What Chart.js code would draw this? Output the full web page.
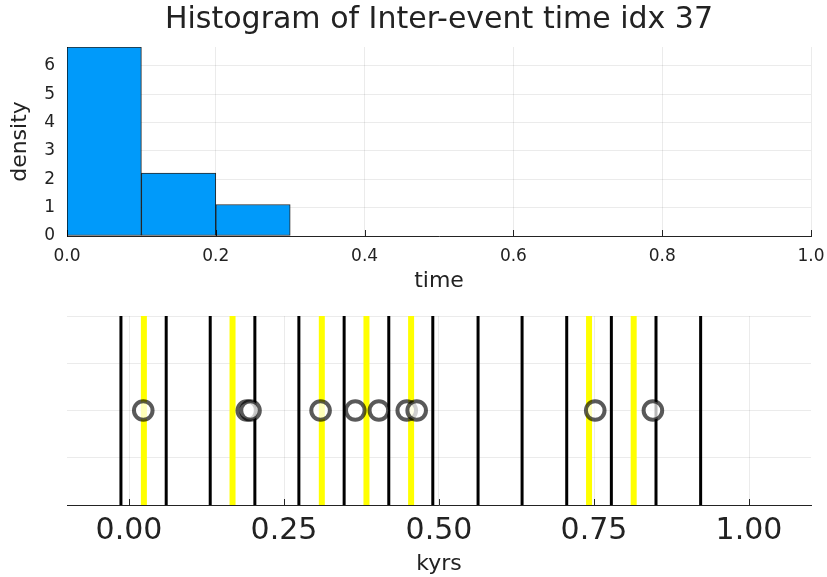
<!DOCTYPE html>
<html>
<head>
<meta charset="utf-8">
<script src="https://cdn.jsdelivr.net/npm/chart.js@4/dist/chart.umd.min.js"></script>
<style>
  html, body { margin: 0; padding: 0; background: #fff; }
  #wrap { position: relative; width: 827px; height: 577px; overflow: hidden; }
  #c1 { position: absolute; left: 0; top: 0; }
  #c2 { position: absolute; left: 0; top: 300px; }
</style>
</head>
<body>
<div id="wrap">
  <canvas id="c1" width="827" height="300"></canvas>
  <canvas id="c2" width="827" height="277"></canvas>
</div>
<script>
// ---- data ----
const titleText = 'Histogram of Inter-event time idx 37';
const binEdges = [0.0, 0.1, 0.2, 0.3];
const densities = [6.667, 2.222, 1.111];
const histXTicks = [0.0, 0.2, 0.4, 0.6, 0.8, 1.0];
const histYTicks = [0, 1, 2, 3, 4, 5, 6];

const blackLines = [-0.013, 0.060, 0.131, 0.203, 0.274, 0.347, 0.419, 0.490, 0.563, 0.634, 0.706, 0.778, 0.850, 0.922];
const yellowLines = [0.024, 0.167, 0.311, 0.383, 0.455, 0.742, 0.814];
const eventTimes = [0.023, 0.190, 0.196, 0.309, 0.365, 0.403, 0.448, 0.464, 0.752, 0.845];
const kyrsTicks = [0.00, 0.25, 0.50, 0.75, 1.00];

// ---- styling ----
const FONT = "'DejaVu Sans', 'Liberation Sans', sans-serif";
const TEXT = '#222';
const GRID = 'rgba(0,0,0,0.08)';
const AXIS = 'rgba(0,0,0,0.85)';
Chart.defaults.font.family = FONT;
Chart.defaults.color = TEXT;
Chart.defaults.animation = false;

const innerTicks = {
  id: 'innerTicks',
  afterDatasetsDraw(chart, args, opts) {
    const ctx = chart.ctx, a = chart.chartArea;
    ctx.save();
    ctx.strokeStyle = AXIS;
    ctx.lineWidth = 1;
    const sx = chart.scales.x;
    sx.ticks.forEach(t => {
      const px = Math.round(sx.getPixelForValue(t.value)) + 0.5;
      ctx.beginPath(); ctx.moveTo(px, a.bottom); ctx.lineTo(px, a.bottom - opts.len); ctx.stroke();
    });
    ctx.restore();
  }
};

// title centred over the plot area (as in the reference)
const plotTitle = {
  id: 'plotTitle',
  afterDraw(chart, args, opts) {
    if (!opts.text) return;
    const ctx = chart.ctx, a = chart.chartArea;
    ctx.save();
    ctx.font = opts.size + 'px ' + FONT;
    ctx.fillStyle = TEXT;
    ctx.textAlign = 'center';
    ctx.textBaseline = 'middle';
    ctx.fillText(opts.text, (a.left + a.right) / 2, opts.y);
    ctx.restore();
  }
};

function setTicks(arr) {
  return function (scale) { scale.ticks = arr.map(v => ({ value: v })); };
}
function noSidePad(s) { s.paddingLeft = 0; s.paddingRight = 0; }

// ---- top: histogram ----
const barData = densities.map((d, i) => ({ x: (binEdges[i] + binEdges[i + 1]) / 2, y: d }));

new Chart(document.getElementById('c1'), {
  type: 'bar',
  data: {
    datasets: [{
      data: barData,
      backgroundColor: 'rgb(0,154,250)',
      borderColor: 'rgba(0,0,0,0.85)',
      borderWidth: 1,
      borderSkipped: false,
      barPercentage: 1,
      categoryPercentage: 1
    }]
  },
  options: {
    responsive: false,
    animation: false,
    events: [],
    layout: { padding: { left: 0, right: 16, top: 47, bottom: 0 } },
    plugins: {
      legend: { display: false },
      tooltip: { enabled: false },
      title: { display: false },
      plotTitle: { text: titleText, size: 30, y: 20 },
      innerTicks: { len: 6 }
    },
    scales: {
      x: {
        type: 'linear',
        min: 0, max: 1,
        offset: false,
        afterBuildTicks: setTicks(histXTicks),
        afterFit(s) { s.height = 64; noSidePad(s); },
        grid: { color: GRID, drawTicks: false, offset: false },
        border: { display: true, color: AXIS, width: 1 },
        ticks: { padding: 10, font: { size: 17 }, color: TEXT, callback: v => v.toFixed(1), maxRotation: 0 },
        title: { display: true, text: 'time', font: { size: 22 }, color: TEXT, padding: { top: 0, bottom: 6 } }
      },
      y: {
        type: 'linear',
        min: 0, max: 6.667,
        afterBuildTicks: setTicks(histYTicks),
        afterFit(s) { s.width = 67; s.paddingTop = 0; },
        grid: { color: GRID, drawTicks: false },
        border: { display: true, color: AXIS, width: 1 },
        ticks: { padding: 12, font: { size: 17 }, color: TEXT },
        title: { display: true, text: 'density', font: { size: 22 }, color: TEXT, padding: { top: 7, bottom: 0 } }
      }
    }
  },
  plugins: [innerTicks, plotTitle]
});

// ---- bottom: event lines ----
function segs(xs) {
  const out = [];
  xs.forEach(x => { out.push({ x: x, y: 0 }, { x: x, y: 1 }, { x: x, y: null }); });
  return out;
}

new Chart(document.getElementById('c2'), {
  type: 'line',
  data: {
    datasets: [
      {
        type: 'scatter',
        data: eventTimes.map(t => ({ x: t, y: 0.5 })),
        pointRadius: 9.3,
        pointBorderWidth: 4,
        pointBorderColor: 'rgba(0,0,0,0.65)',
        pointBackgroundColor: 'rgba(255,255,255,0.72)',
        showLine: false,
        order: 0
      },
      {
        data: segs(yellowLines),
        borderColor: 'rgb(255,255,0)',
        borderWidth: 6,
        pointRadius: 0,
        spanGaps: false,
        order: 1
      },
      {
        data: segs(blackLines),
        borderColor: '#000',
        borderWidth: 3,
        pointRadius: 0,
        spanGaps: false,
        order: 2
      }
    ]
  },
  options: {
    responsive: false,
    animation: false,
    events: [],
    layout: { padding: { left: 0, right: 16, top: 16, bottom: 0 } },
    plugins: {
      legend: { display: false },
      tooltip: { enabled: false },
      title: { display: false },
      innerTicks: { len: 6 }
    },
    scales: {
      x: {
        type: 'linear',
        min: -0.1, max: 1.1,
        afterBuildTicks: setTicks(kyrsTicks),
        afterFit(s) { s.height = 72; noSidePad(s); },
        grid: { color: GRID, drawTicks: false },
        border: { display: true, color: AXIS, width: 1 },
        ticks: { padding: 8, font: { size: 30 }, color: TEXT, callback: v => v.toFixed(2), maxRotation: 0 },
        title: { display: true, text: 'kyrs', font: { size: 22 }, color: TEXT, padding: { top: 0, bottom: 0 } }
      },
      y: {
        type: 'linear',
        min: 0, max: 1,
        afterBuildTicks: setTicks([0, 0.25, 0.5, 0.75, 1]),
        afterFit(s) { s.width = 67; },
        grid: { color: GRID, drawTicks: false },
        border: { display: false },
        ticks: { display: false }
      }
    }
  },
  plugins: [innerTicks]
});
</script>
</body>
</html>
